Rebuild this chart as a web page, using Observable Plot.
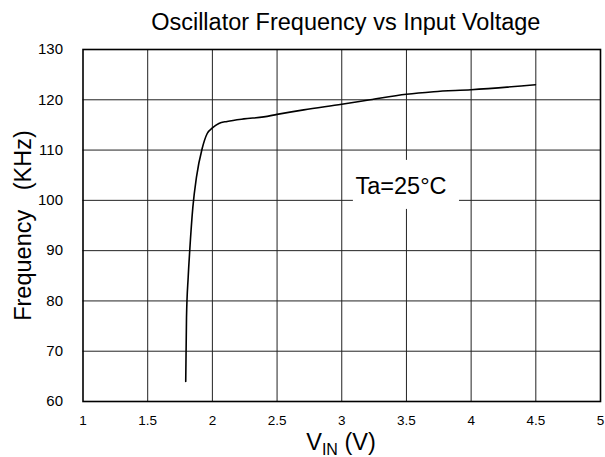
<!DOCTYPE html>
<html>
<head>
<meta charset="utf-8">
<script src="https://cdn.jsdelivr.net/npm/d3@7"></script>
<script src="https://cdn.jsdelivr.net/npm/@observablehq/plot@0.6"></script>
<style>
  html, body { margin: 0; padding: 0; background: #fff; }
  #chart { width: 605px; height: 457px; }
</style>
</head>
<body>
<div id="chart"></div>
<script>
// Data
const vin  = [1.794, 1.80, 1.813, 1.825, 1.849, 1.877, 1.921, 1.96, 2.0, 2.05, 2.114, 2.243, 2.397, 2.5, 2.706, 3.0, 3.22, 3.5, 3.71, 4.0, 4.497];
const freq = [64.0, 76.7, 84.7, 90.0, 98.6, 104.6, 110.3, 113.3, 114.4, 115.3, 115.7, 116.2, 116.6, 117.1, 118.0, 119.1, 120.0, 121.1, 121.6, 122.0, 123.0];

const xTicks = [1, 1.5, 2, 2.5, 3, 3.5, 4, 4.5, 5];
const yTicks = [60, 70, 80, 90, 100, 110, 120, 130];

const titleText = "Oscillator Frequency vs Input Voltage";
const yLabelText = "Frequency\u00a0\u00a0\u00a0(KHz)";
const noteText = ["Ta=25\u00b0C"];
const noteX = [3.106];
const noteY = [102.67];
const noteBox = [{x1: 3.09, x2: 3.91, y1: 98.2, y2: 107.95}];

const data = vin.map((v, i) => ({v, f: freq[i]}));

const svg = Plot.plot({
  width: 605,
  height: 457,
  marginLeft: 82.5,
  marginRight: 5,
  marginTop: 49,
  marginBottom: 56,
  style: {fontFamily: "Liberation Sans, Arial, sans-serif", background: "#fff", color: "#000"},
  x: {domain: [1, 5]},
  y: {domain: [60, 130]},
  marks: [
    Plot.gridX(xTicks.slice(1, -1), {stroke: "#222", strokeOpacity: 1, strokeWidth: 1}),
    Plot.gridY(yTicks.slice(1, -1), {stroke: "#222", strokeOpacity: 1, strokeWidth: 1}),
    Plot.rect(noteBox, {x1: "x1", x2: "x2", y1: "y1", y2: "y2", fill: "#fff"}),
    Plot.frame({stroke: "#000", strokeWidth: 1.6}),
    Plot.axisX(xTicks, {tickSize: 0, tickPadding: 14, fontSize: 13.5, tickFormat: d => String(d)}),
    Plot.axisY(yTicks, {tickSize: 0, tickPadding: 20, fontSize: 15, tickFormat: d => String(d)}),
    Plot.line(data, {x: "v", y: "f", curve: "monotone-x", stroke: "#000", strokeWidth: 1.6}),
    Plot.text(noteText, {x: noteX, y: noteY, text: d => d, textAnchor: "start", fontSize: 23.5, fill: "#000"}),
    Plot.text([titleText], {frameAnchor: "top", lineAnchor: "middle", dy: -27, dx: 4, fontSize: 23.5, fill: "#000"}),
    Plot.text([yLabelText], {frameAnchor: "left", textAnchor: "middle", dx: -60, rotate: -90, fontSize: 23.5, fill: "#000"})
  ]
});

// x axis title with subscript
const lab = d3.select(svg).append("text")
  .attr("x", 341).attr("y", 450)
  .attr("text-anchor", "middle")
  .attr("font-family", "Liberation Sans, Arial, sans-serif")
  .attr("font-size", 23.5)
  .attr("fill", "#000");
lab.append("tspan").text("V");
lab.append("tspan").attr("font-size", 16).attr("dy", 5).text("IN");
lab.append("tspan").attr("dy", -5).text("\u00a0(V)");

document.getElementById("chart").appendChild(svg);
</script>
</body>
</html>
